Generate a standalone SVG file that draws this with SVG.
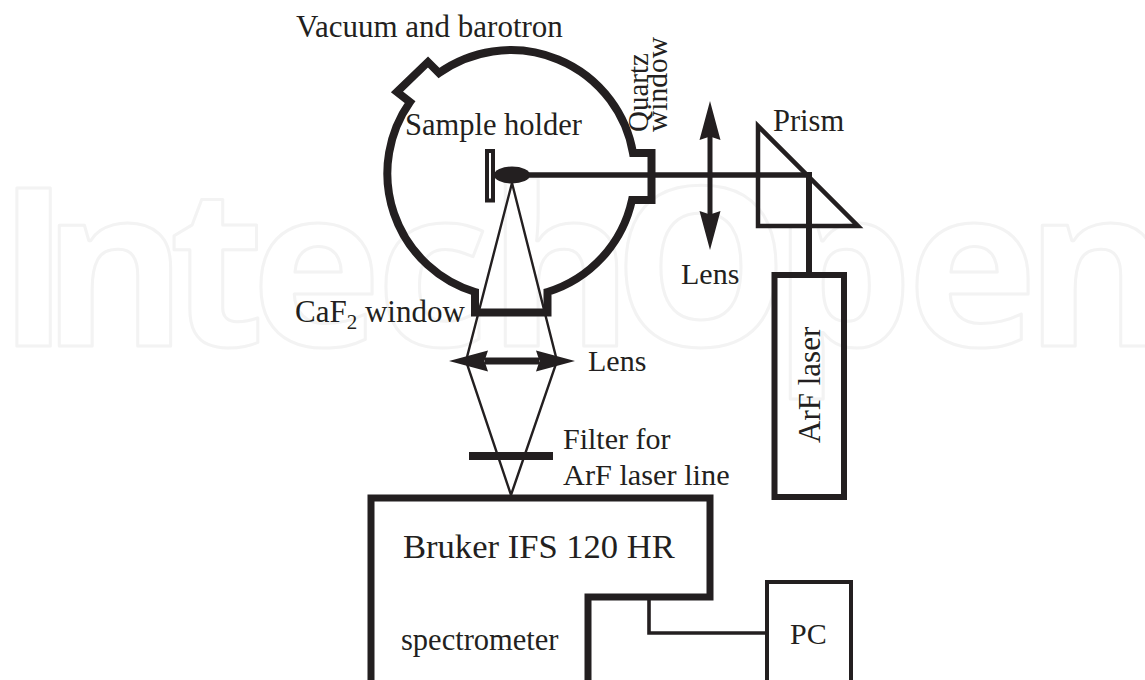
<svg xmlns="http://www.w3.org/2000/svg" width="1145" height="680" viewBox="0 0 1145 680">
<style>
.t{font-family:"Liberation Serif","Times New Roman",serif;font-size:30px;fill:#231f20}
.s{fill:none;stroke:#231f20;stroke-linejoin:miter;stroke-linecap:butt}
.f{fill:#231f20}
.w{font-family:"Open Sans",sans-serif;font-weight:700;font-size:221px;fill:none;stroke:#f3f3f3;stroke-width:3;stroke-linejoin:round}
</style>
<defs>
<path id="head" class="f" d="M0 0L10.5 39L0 35.5L-10.5 39Z"/>
</defs>
<rect width="1145" height="680" fill="#fff"/>
<text id="watermark" class="w" y="346" x="-3 42 169 251 376 488 613 773 907 1025">IntechOpen</text>
<g id="connectors">
<path class="s" stroke-width="2.4" d="M512 183L466 361L511 495L557 361L512 183"/>
<path class="s" stroke-width="5.5" d="M512 175H809"/>
<path class="s" stroke-width="6" d="M809 172V276"/>
<path class="s" stroke-width="3.6" d="M649 599V633H767"/>
</g>
<g id="chamber">
<path class="s" stroke-width="8" d="M439 73A124 124 0 0 1 633 153H651.500V200H632A124 124 0 0 1 547.500 292V312.500H475V292A124 124 0 0 1 410 102L397 92L428 62Z"/>
<text class="t" x="296" y="37" style="font-size:31px">Vacuum and barotron</text>
<text class="t" transform="translate(648 132) rotate(-90)" style="font-size:29px">Quartz</text>
<text class="t" transform="translate(667 132) rotate(-90)" style="font-size:29.500px">window</text>
<text class="t" x="295" y="322" style="font-size:31px">CaF<tspan dy="7" style="font-size:21px">2</tspan><tspan dy="-7"> window</tspan></text>
</g>
<g id="sample-holder">
<rect class="s" stroke-width="4" x="487" y="151" width="6" height="49.500" fill="#fff"/>
<ellipse class="f" cx="512" cy="175" rx="18" ry="8.500"/>
<text class="t" x="405" y="135" style="font-size:30.500px">Sample holder</text>
</g>
<g id="lens-vertical">
<path class="s" stroke-width="5" d="M710 135V216"/>
<use href="#head" transform="translate(710 101)"/>
<use href="#head" transform="translate(710 250) rotate(180)"/>
<text class="t" x="681" y="284">Lens</text>
</g>
<g id="lens-horizontal">
<path class="s" stroke-width="7" d="M485 361H539"/>
<use href="#head" transform="translate(449 361) rotate(-90)"/>
<use href="#head" transform="translate(575 361) rotate(90)"/>
<text class="t" x="588" y="371">Lens</text>
</g>
<g id="prism">
<path class="s" stroke-width="4.500" d="M758 126V226H858Z"/>
<text class="t" x="773" y="131" style="font-size:30.500px">Prism</text>
</g>
<g id="filter">
<rect class="f" x="469" y="452" width="84" height="8"/>
<text class="t" x="563" y="449">Filter for</text>
<text class="t" x="563" y="485" style="font-size:30.300px">ArF laser line</text>
</g>
<g id="laser">
<rect class="s" stroke-width="6" x="774.500" y="275" width="69.500" height="222"/>
<text class="t" transform="translate(820 443) rotate(-90)" style="font-size:31px">ArF laser</text>
</g>
<g id="spectrometer">
<path class="s" stroke-width="7" d="M371 680V498H710V597H588V680"/>
<text class="t" x="403" y="558" style="font-size:34.600px">Bruker IFS 120 HR</text>
<text class="t" x="401" y="650" style="font-size:30.500px">spectrometer</text>
</g>
<g id="pc">
<path class="s" stroke-width="4" d="M767 680V582H851V680"/>
<text class="t" x="790" y="644">PC</text>
</g>
</svg>
